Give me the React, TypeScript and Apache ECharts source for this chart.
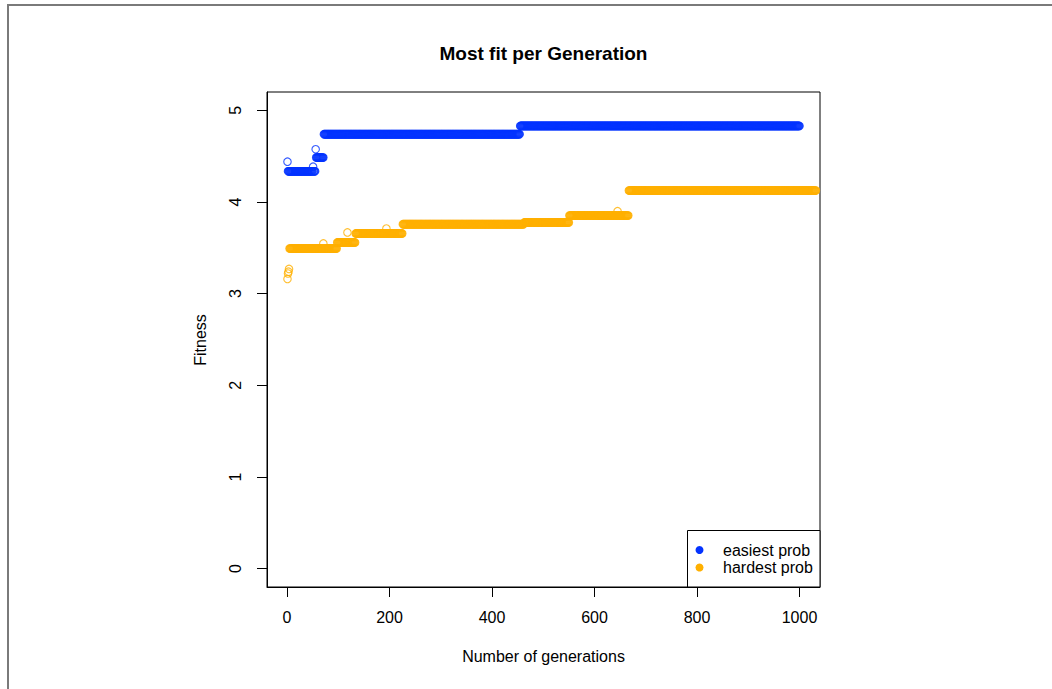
import React, { useEffect, useRef } from "react";
import * as echarts from "echarts";

// Run-length readings: [firstGeneration, lastGeneration, fitness]
const easiestRuns: [number, number, number][] = [
  [1, 1, 4.44],
  [2, 50, 4.335],
  [51, 51, 4.385],
  [52, 55, 4.335],
  [56, 56, 4.575],
  [57, 71, 4.485],
  [72, 454, 4.74],
  [455, 1000, 4.83],
];

const hardestRuns: [number, number, number][] = [
  [1, 1, 3.16],
  [2, 2, 3.22],
  [3, 3, 3.24],
  [4, 4, 3.27],
  [5, 70, 3.493],
  [71, 71, 3.548],
  [72, 97, 3.493],
  [98, 117, 3.559],
  [118, 118, 3.668],
  [119, 133, 3.559],
  [134, 193, 3.657],
  [194, 194, 3.71],
  [195, 225, 3.657],
  [226, 462, 3.758],
  [463, 550, 3.777],
  [551, 644, 3.853],
  [645, 645, 3.9],
  [646, 666, 3.853],
  [667, 1032, 4.125],
];

const xTicks = [0, 200, 400, 600, 800, 1000];
const yTicks = [0, 1, 2, 3, 4, 5];
const seriesNames = ["easiest prob", "hardest prob"];
const seriesColors = ["#0433ff", "#ffb000"];

function decode(runs: [number, number, number][]): [number, number][] {
  const out: [number, number][] = [];
  for (const [a, b, v] of runs) {
    for (let g = a; g <= b; g++) out.push([g, v]);
  }
  return out;
}

const FONT = "'Liberation Sans', Arial, Helvetica, sans-serif";

export default function App() {
  const ref = useRef<HTMLDivElement>(null);
  useEffect(() => {
    if (!ref.current) return;
    const chart = echarts.init(ref.current, undefined, { renderer: "svg" });
    const gridLeft = 267;
    const gridTop = 92;
    const gridRight = 820;
    const gridBottom = 587;
    const mkSeries = (runs: [number, number, number][], i: number) => ({
      type: "scatter",
      name: seriesNames[i],
      data: decode(runs),
      symbol: "circle",
      symbolSize: 7.5,
      clip: true,
      progressive: 0,
      silent: true,
      itemStyle: {
        color: "rgba(0,0,0,0)",
        borderColor: seriesColors[i],
        borderWidth: 1.1,
      },
    });
    chart.setOption({
      animation: false,
      backgroundColor: "#ffffff",
      grid: {
        left: gridLeft,
        top: gridTop,
        width: gridRight - gridLeft,
        height: gridBottom - gridTop,
        show: true,
        borderColor: "#000",
        borderWidth: 1,
        backgroundColor: "transparent",
      },
      xAxis: {
        type: "value",
        min: -38.96,
        max: 1039.96,
        splitLine: { show: false },
        axisLine: { show: true, onZero: false, lineStyle: { color: "#000", width: 1 } },
        axisTick: { show: true, length: 10, customValues: xTicks, lineStyle: { color: "#000" } },
        axisLabel: {
          customValues: xTicks,
          formatter: (v: number) => String(v),
          color: "#000",
          fontSize: 16,
          fontFamily: FONT,
          margin: 22,
        },
      },
      yAxis: {
        type: "value",
        min: -0.2,
        max: 5.2,
        splitLine: { show: false },
        axisLine: { show: true, onZero: false, lineStyle: { color: "#000", width: 1 } },
        axisTick: { show: true, length: 10, customValues: yTicks, lineStyle: { color: "#000" } },
        axisLabel: {
          customValues: yTicks,
          formatter: (v: number) => String(v),
          color: "#000",
          fontSize: 16,
          fontFamily: FONT,
          rotate: 90,
          margin: 24,
        },
      },
      series: [mkSeries(easiestRuns, 0), mkSeries(hardestRuns, 1)],
      graphic: [
        {
          type: "polyline",
          silent: true,
          shape: { points: [[8, 689], [8, 5], [1052, 5]] },
          style: { stroke: "#7a7a7a", lineWidth: 2, fill: "none" },
        },
        {
          type: "text",
          x: 543.5,
          y: 53,
          style: {
            text: "Most fit per Generation",
            font: `bold 19px ${FONT}`,
            fill: "#000",
            align: "center",
            verticalAlign: "middle",
          },
        },
        {
          type: "text",
          x: 543.5,
          y: 656,
          style: {
            text: "Number of generations",
            font: `16px ${FONT}`,
            fill: "#000",
            align: "center",
            verticalAlign: "middle",
          },
        },
        {
          type: "text",
          x: 200,
          y: 340,
          rotation: Math.PI / 2,
          style: {
            text: "Fitness",
            font: `16px ${FONT}`,
            fill: "#000",
            align: "center",
            verticalAlign: "middle",
          },
        },
        {
          type: "rect",
          shape: { x: 687.5, y: 530.5, width: 132.5, height: 56.5 },
          style: { fill: "#fff", stroke: "#000", lineWidth: 1 },
          z: 100,
        },
        {
          type: "circle",
          shape: { cx: 699.5, cy: 550, r: 4 },
          style: { fill: seriesColors[0] },
          z: 101,
        },
        {
          type: "circle",
          shape: { cx: 699.5, cy: 567.5, r: 4 },
          style: { fill: seriesColors[1] },
          z: 101,
        },
        {
          type: "text",
          x: 723,
          y: 550,
          z: 101,
          style: {
            text: seriesNames[0],
            font: `16px ${FONT}`,
            fill: "#000",
            align: "left",
            verticalAlign: "middle",
          },
        },
        {
          type: "text",
          x: 723,
          y: 567.5,
          z: 101,
          style: {
            text: seriesNames[1],
            font: `16px ${FONT}`,
            fill: "#000",
            align: "left",
            verticalAlign: "middle",
          },
        },
      ],
    });
    return () => chart.dispose();
  }, []);
  return (
    <div
      ref={ref}
      style={{ position: "absolute", left: 0, top: 0, width: 1052, height: 689 }}
    />
  );
}
